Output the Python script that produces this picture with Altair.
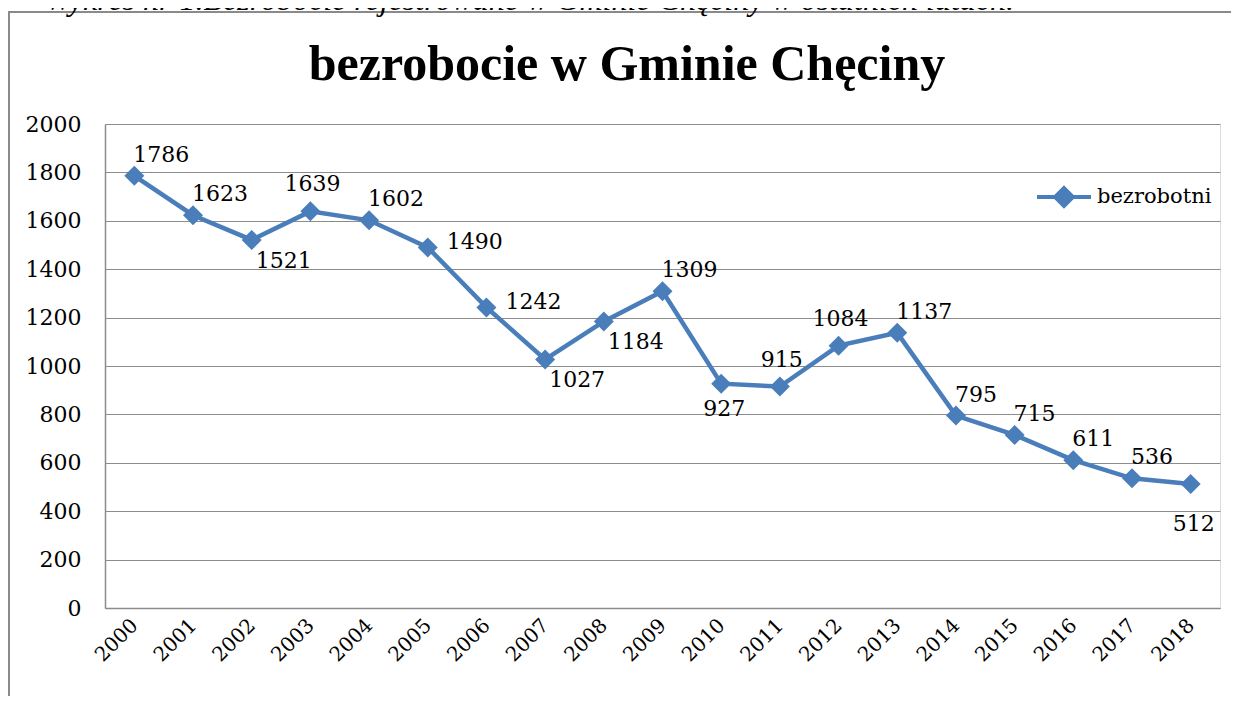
import altair as alt
import pandas as pd

years = [str(y) for y in range(2000, 2019)]
values = [1786, 1623, 1521, 1639, 1602, 1490, 1242, 1027, 1184, 1309,
          927, 915, 1084, 1137, 795, 715, 611, 536, 512]
label_side = ["ne", "ne", "se", "n", "ne", "e", "e", "se", "se", "ne",
              "s", "n", "n", "ne", "ne", "ne", "ne", "ne", "sfar"]
series_name = "bezrobotni"
title_text = "bezrobocie w Gminie Chęciny"
caption_text = "Wykres nr 1.Bezrobocie rejestrowane w Gminie Chęciny w ostatnich latach."
y_ticks = list(range(0, 2001, 200))

df = pd.DataFrame({"year": years, "value": values, "side": label_side,
                   "series": [series_name] * len(years)})

BLUE = "#4a7ebb"
GRID = "#8c8c8c"
SERIF = "DejaVu Serif"
W, H = 1115, 484

x_enc = alt.X("year:O", scale=alt.Scale(type="point", padding=0.5),
              axis=alt.Axis(title=None, labelAngle=-45, labelFont=SERIF, labelFontSize=20,
                            labelColor="#000", ticks=False, tickSize=0, labelPadding=14,
                            domainColor=GRID, domainWidth=1.5, grid=False,
                            labelAlign="right", labelBaseline="middle"))
y_enc = alt.Y("value:Q", scale=alt.Scale(domain=[0, 2000], nice=False),
              axis=alt.Axis(title=None, values=y_ticks, format="d", labelFont=SERIF, labelFontSize=22,
                            labelColor="#000", ticks=False, tickSize=0, labelPadding=24,
                            domainColor=GRID, domainWidth=1.5, gridColor=GRID, gridWidth=1))

base = alt.Chart(df)

line = base.mark_line(strokeWidth=4.5).encode(
    x=x_enc, y=y_enc,
    color=alt.Color("series:N", scale=alt.Scale(range=[BLUE]),
                    legend=alt.Legend(title=None, orient="none", legendX=930, legendY=44,
                                      symbolType="M-1,0H1M0,-0.33L0.33,0L0,0.33L-0.33,0ZM0,-0.2L0.2,0L0,0.2L-0.2,0ZM0,-0.08L0.08,0L0,0.08L-0.08,0Z",
                                      symbolSize=2916, symbolStrokeWidth=4,
                                      symbolStrokeColor=BLUE,
                                      labelFont=SERIF, labelFontSize=21, labelColor="#000",
                                      labelOffset=4, padding=0))
)
points = base.mark_point(shape="diamond", filled=True, size=400, color=BLUE, opacity=1).encode(
    x="year:O", y="value:Q"
)

offsets = {
    "ne": dict(align="left", dx=-1, dy=-21),
    "n": dict(align="center", dx=2, dy=-27),
    "se": dict(align="left", dx=4, dy=21),
    "s": dict(align="center", dx=3, dy=25),
    "sfar": dict(align="center", dx=3, dy=40),
    "e": dict(align="left", dx=19, dy=-5),
}
label_layers = []
for side, opt in offsets.items():
    label_layers.append(
        base.transform_filter(alt.datum.side == side)
        .mark_text(font=SERIF, fontSize=22, color="#000", baseline="middle", **opt)
        .encode(x="year:O", y="value:Q", text="value:Q")
    )

one = alt.Chart(pd.DataFrame({"k": [0]}))
frame = one.mark_rect(filled=False, stroke="#8a8a8a", strokeWidth=2, clip=False).encode(
    x=alt.value(-96), y=alt.value(-112), x2=alt.value(W + 40), y2=alt.value(H + 120)
)
caption = one.mark_text(text=caption_text, font="Liberation Serif", fontSize=32, fontStyle="italic",
                        align="left", baseline="alphabetic", color="#000").encode(
    x=alt.value(-60), y=alt.value(-114)
)
title = one.mark_text(text=title_text, font="Liberation Sans Narrow", fontSize=50, fontWeight="bold",
                      align="center", baseline="alphabetic", color="#000").encode(
    x=alt.value(522), y=alt.value(-44)
)

chart = alt.layer(frame, caption, title, line, points, *label_layers).properties(
    width=W, height=H,
    padding={"left": 97, "top": 116, "right": 11, "bottom": 88},
    autosize=alt.AutoSizeParams(type="none"),
).configure_view(stroke=None).configure(background="white")

chart.save("out.html", embed_options={"renderer": "svg", "actions": False})
